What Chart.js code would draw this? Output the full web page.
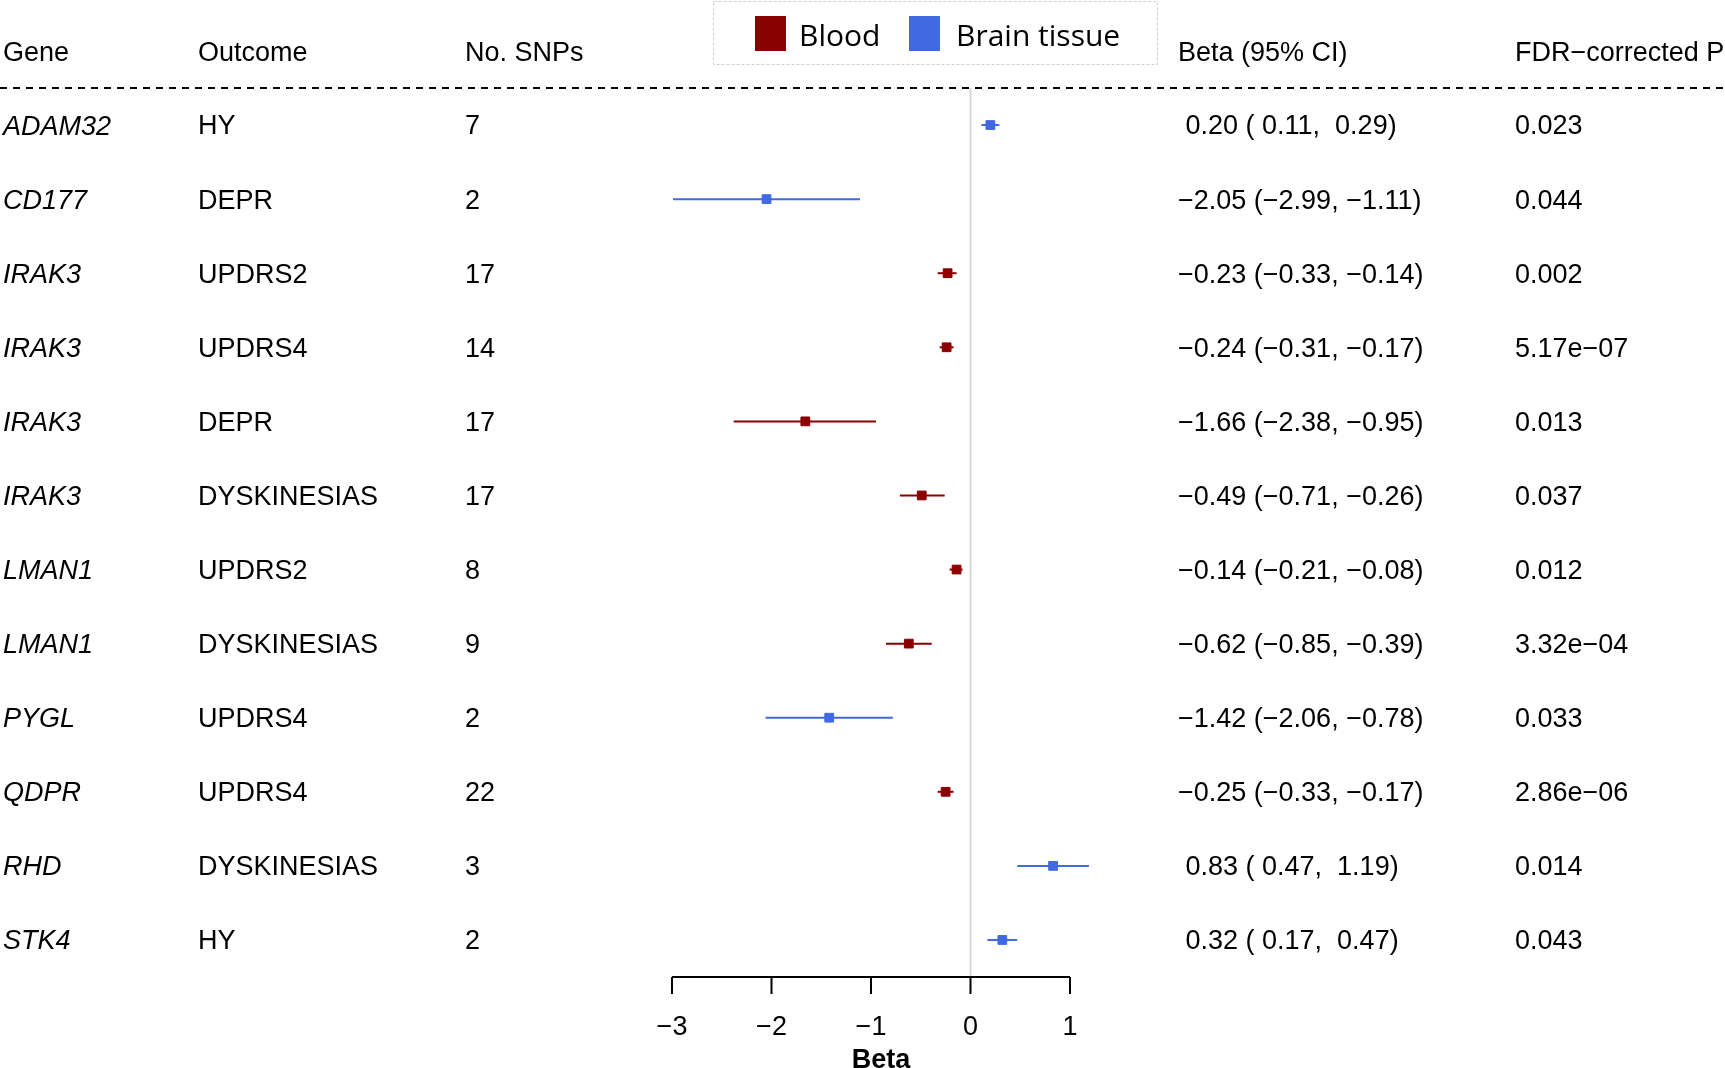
<!DOCTYPE html>
<html>
<head>
<meta charset="utf-8">
<script src="https://cdn.jsdelivr.net/npm/chart.js@4.4.1/dist/chart.umd.min.js"></script>
<style>
  html, body { margin: 0; padding: 0; background: #fff; }
  #forest { display: block; }
</style>
</head>
<body>
<canvas id="forest" width="1725" height="1068"></canvas>
<script>
// dados da figura
const genes = ["ADAM32", "CD177", "IRAK3", "IRAK3", "IRAK3", "IRAK3", "LMAN1", "LMAN1", "PYGL", "QDPR", "RHD", "STK4"];
const outcomes = ["HY", "DEPR", "UPDRS2", "UPDRS4", "DEPR", "DYSKINESIAS", "UPDRS2", "DYSKINESIAS", "UPDRS4", "UPDRS4", "DYSKINESIAS", "HY"];
const nSnps = [7, 2, 17, 14, 17, 17, 8, 9, 2, 22, 3, 2];
const beta = [0.20, -2.05, -0.23, -0.24, -1.66, -0.49, -0.14, -0.62, -1.42, -0.25, 0.83, 0.32];
const lower = [0.11, -2.99, -0.33, -0.31, -2.38, -0.71, -0.21, -0.85, -2.06, -0.33, 0.47, 0.17];
const upper = [0.29, -1.11, -0.14, -0.17, -0.95, -0.26, -0.08, -0.39, -0.78, -0.17, 1.19, 0.47];
const fdrP = ["0.023", "0.044", "0.002", "5.17e\u221207", "0.013", "0.037", "0.012", "3.32e\u221204", "0.033", "2.86e\u221206", "0.014", "0.043"];
const tissue = ["Brain tissue", "Brain tissue", "Blood", "Blood", "Blood", "Blood", "Blood", "Blood", "Brain tissue", "Blood", "Brain tissue", "Brain tissue"];
const xTicks = [-3, -2, -1, 0, 1];
const headers = ["Gene", "Outcome", "No. SNPs", "Beta (95% CI)", "FDR\u2212corrected P"];

const cores = { "Blood": "#8B0000", "Brain tissue": "#4169E1" };
const FONT = "'Liberation Sans', Arial, Helvetica, sans-serif";

function fmt(v) {
  let s = Math.abs(v).toFixed(2);
  s = (v < 0 ? "\u2212" : " ") + s;
  return s;
}
function ciText(i) {
  return fmt(beta[i]) + " (" + fmt(lower[i]) + ", " + fmt(upper[i]) + ")";
}

function pontos(t) {
  const out = [];
  beta.forEach((b, i) => { if (tissue[i] === t) out.push({ x: b, y: i + 1 }); });
  return out;
}

const forestPlugin = {
  id: "forest",
  beforeDatasetsDraw(chart) {
    const ctx = chart.ctx;
    const xs = chart.scales.x, ys = chart.scales.y;
    const area = chart.chartArea;
    ctx.save();
    // linha do zero
    ctx.strokeStyle = "#d3d3d3";
    ctx.lineWidth = 1.8;
    ctx.beginPath();
    ctx.moveTo(xs.getPixelForValue(0), area.top);
    ctx.lineTo(xs.getPixelForValue(0), area.bottom);
    ctx.stroke();
    // intervalos de confianca
    ctx.lineWidth = 2;
    beta.forEach((b, i) => {
      const y = ys.getPixelForValue(i + 1);
      ctx.strokeStyle = cores[tissue[i]];
      ctx.beginPath();
      ctx.moveTo(xs.getPixelForValue(lower[i]), y);
      ctx.lineTo(xs.getPixelForValue(upper[i]), y);
      ctx.stroke();
    });
    ctx.restore();
  },
  afterDraw(chart) {
    const ctx = chart.ctx;
    const xs = chart.scales.x, ys = chart.scales.y;
    const area = chart.chartArea;
    const colX = [3, 198, 465, 1178, 1515];
    ctx.save();
    ctx.fillStyle = "#000";
    ctx.textBaseline = "middle";
    ctx.textAlign = "left";

    // cabecalho
    ctx.font = "27px " + FONT;
    const yHead = ys.getPixelForValue(0) + 3;
    headers.forEach((h, k) => ctx.fillText(h, colX[k], yHead));

    // linha tracejada
    ctx.strokeStyle = "#000";
    ctx.lineWidth = 2;
    ctx.setLineDash([7, 6]);
    ctx.beginPath();
    ctx.moveTo(0, area.top);
    ctx.lineTo(chart.width, area.top);
    ctx.stroke();
    ctx.setLineDash([]);

    // linhas da tabela
    genes.forEach((g, i) => {
      const y = ys.getPixelForValue(i + 1) + 2;
      ctx.font = "italic 27px " + FONT;
      ctx.fillText(g, colX[0], y);
      ctx.font = "27px " + FONT;
      ctx.fillText(outcomes[i], colX[1], y);
      ctx.fillText(String(nSnps[i]), colX[2], y);
      ctx.fillText(ciText(i), colX[3], y);
      ctx.fillText(fdrP[i], colX[4], y);
    });

    // eixo x
    const yAx = area.bottom;
    ctx.lineWidth = 2;
    ctx.beginPath();
    ctx.moveTo(xs.getPixelForValue(xTicks[0]), yAx);
    ctx.lineTo(xs.getPixelForValue(xTicks[xTicks.length - 1]), yAx);
    xTicks.forEach(t => {
      const px = xs.getPixelForValue(t);
      ctx.moveTo(px, yAx);
      ctx.lineTo(px, yAx + 17);
    });
    ctx.stroke();
    ctx.textAlign = "center";
    ctx.font = "27px " + FONT;
    xTicks.forEach(t => {
      const lab = t < 0 ? "\u2212" + Math.abs(t) : String(t);
      ctx.fillText(lab, xs.getPixelForValue(t), yAx + 51);
    });
    ctx.font = "bold 27px " + FONT;
    ctx.fillText("Beta", xs.getPixelForValue(-0.9), yAx + 84);

    // legenda
    ctx.strokeStyle = "#cfcfcf";
    ctx.lineWidth = 1;
    ctx.setLineDash([3, 2]);
    ctx.strokeRect(713.5, 1.5, 444, 63);
    ctx.setLineDash([]);
    ctx.textAlign = "left";
    ctx.font = "30px 'Open Sans', 'Noto Sans', sans-serif";
    const itens = [["Blood", 755, 799], ["Brain tissue", 909, 956]];
    itens.forEach(([nome, sx, tx]) => {
      ctx.fillStyle = cores[nome];
      ctx.fillRect(sx, 16, 31, 35);
      ctx.fillStyle = "#000";
      ctx.fillText(nome, tx, 37);
    });
    ctx.restore();
  }
};

new Chart(document.getElementById("forest"), {
  type: "scatter",
  data: {
    datasets: ["Blood", "Brain tissue"].map(t => ({
      label: t,
      data: pontos(t),
      backgroundColor: cores[t],
      borderColor: cores[t],
      pointStyle: "rect",
      pointRadius: 6.2,
      pointBorderWidth: 1,
      clip: false
    }))
  },
  options: {
    responsive: false,
    animation: false,
    devicePixelRatio: 1,
    layout: { padding: { left: 672, right: 655, top: 88, bottom: 91 } },
    plugins: { legend: { display: false }, tooltip: { enabled: false } },
    scales: {
      x: { type: "linear", min: -3, max: 1, display: false },
      y: { type: "linear", min: 0.5, max: 12.5, reverse: true, display: false }
    }
  },
  plugins: [forestPlugin]
});
</script>
</body>
</html>
